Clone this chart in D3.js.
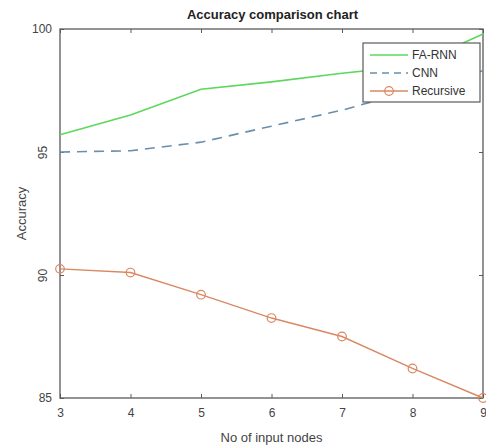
<!DOCTYPE html>
<html>
<head>
<meta charset="utf-8">
<script src="https://cdn.jsdelivr.net/npm/d3@7"></script>
<style>
  body { margin: 0; background: #fff; }
  text { font-family: "Liberation Sans", Arial, sans-serif; }
</style>
</head>
<body>
<script>
const nodes = [3, 4, 5, 6, 7, 8, 9];
const faRnn = [95.7, 96.5, 97.55, 97.85, 98.2, 98.5, 99.8];
const cnn = [95.0, 95.05, 95.4, 96.05, 96.7, 97.5, 98.3];
const recursive = [90.25, 90.1, 89.2, 88.25, 87.5, 86.2, 85.0];
const yTicks = [85, 90, 95, 100];
const seriesNames = ["FA-RNN", "CNN", "Recursive"];

const W = 486, H = 448;
const m = {left: 60, right: 3, top: 29, bottom: 50};

const svg = d3.select("body").append("svg")
  .attr("width", W)
  .attr("height", H);

const x = d3.scaleLinear().domain([3, 9]).range([m.left, W - m.right]);
const y = d3.scaleLinear().domain([85, 100]).range([H - m.bottom, m.top]);

const axisColor = "#5a5a5a";
const rotated = d => d === 90 || d === 95;

// box frame
svg.append("rect")
  .attr("x", x(3)).attr("y", y(100))
  .attr("width", x(9) - x(3)).attr("height", y(85) - y(100))
  .attr("fill", "none").attr("stroke", axisColor).attr("stroke-width", 1.3);

// bottom axis
const gx = svg.append("g").attr("transform", `translate(0,${y(85)})`)
  .call(d3.axisBottom(x).tickValues(nodes).tickSize(-4).tickPadding(10).tickFormat(d3.format("d")));
gx.select(".domain").remove();
gx.selectAll("line").attr("stroke", axisColor);
gx.selectAll("text").attr("fill", "#444").attr("font-size", 12);

// top ticks
const gt = svg.append("g").attr("transform", `translate(0,${y(100)})`)
  .call(d3.axisTop(x).tickValues(nodes).tickSize(-4).tickFormat(""));
gt.select(".domain").remove();
gt.selectAll("line").attr("stroke", axisColor);

// left axis
const gy = svg.append("g").attr("transform", `translate(${x(3)},0)`)
  .call(d3.axisLeft(y).tickValues(yTicks).tickSize(-4).tickPadding(8).tickFormat(d3.format("d")));
gy.select(".domain").remove();
gy.selectAll("line").attr("stroke", axisColor);
gy.selectAll("text").attr("fill", "#444").attr("font-size", 12)
  .attr("transform", d => rotated(d) ? "rotate(-90,-17,0)" : null)
  .attr("x", d => rotated(d) ? -17 : -8)
  .attr("dy", "0.32em")
  .attr("text-anchor", d => rotated(d) ? "middle" : "end");

// right ticks
const gr = svg.append("g").attr("transform", `translate(${x(9)},0)`)
  .call(d3.axisRight(y).tickValues(yTicks).tickSize(-4).tickFormat(""));
gr.select(".domain").remove();
gr.selectAll("line").attr("stroke", axisColor);

// title and labels
svg.append("text")
  .attr("x", (x(3) + x(9)) / 2 + 1).attr("y", 19)
  .attr("text-anchor", "middle").attr("font-size", 13).attr("font-weight", "bold")
  .attr("fill", "#222")
  .text("Accuracy comparison chart");

svg.append("text")
  .attr("x", (x(3) + x(9)) / 2).attr("y", 442)
  .attr("text-anchor", "middle").attr("font-size", 13).attr("fill", "#444")
  .text("No of input nodes");

svg.append("text")
  .attr("transform", `translate(26,${(y(85) + y(100)) / 2}) rotate(-90)`)
  .attr("text-anchor", "middle").attr("font-size", 13).attr("fill", "#444")
  .text("Accuracy");

const line = d3.line().x((d, i) => x(nodes[i])).y(d => y(d));

svg.append("path").datum(faRnn)
  .attr("d", line).attr("fill", "none")
  .attr("stroke", "#5cd85c").attr("stroke-width", 1.6);

svg.append("path").datum(cnn)
  .attr("d", line).attr("fill", "none")
  .attr("stroke", "#6a8fac").attr("stroke-width", 1.6)
  .attr("stroke-dasharray", "10,7");

svg.append("path").datum(recursive)
  .attr("d", line).attr("fill", "none")
  .attr("stroke", "#da8863").attr("stroke-width", 1.4);

svg.selectAll(".mk").data(recursive).enter().append("circle")
  .attr("cx", (d, i) => x(nodes[i])).attr("cy", d => y(d)).attr("r", 4.3)
  .attr("fill", "none").attr("stroke", "#da8863").attr("stroke-width", 1.2);

// legend
const lg = svg.append("g");
lg.append("rect")
  .attr("x", 363).attr("y", 43).attr("width", 117).attr("height", 59)
  .attr("fill", "#fff").attr("stroke", axisColor).attr("stroke-width", 1.2);

const styles = [
  {color: "#5cd85c", dash: null, marker: false},
  {color: "#6a8fac", dash: "7,5", marker: false},
  {color: "#da8863", dash: null, marker: true}
];
seriesNames.forEach((name, i) => {
  const ly = 55 + i * 18;
  lg.append("line")
    .attr("x1", 370).attr("x2", 408).attr("y1", ly).attr("y2", ly)
    .attr("stroke", styles[i].color).attr("stroke-width", 1.6)
    .attr("stroke-dasharray", styles[i].dash);
  if (styles[i].marker) {
    lg.append("circle").attr("cx", 389).attr("cy", ly).attr("r", 4.3)
      .attr("fill", "none").attr("stroke", styles[i].color).attr("stroke-width", 1.2);
  }
  lg.append("text")
    .attr("x", 412).attr("y", ly).attr("dy", "0.35em")
    .attr("font-size", 12).attr("fill", "#333")
    .text(name);
});
</script>
</body>
</html>
